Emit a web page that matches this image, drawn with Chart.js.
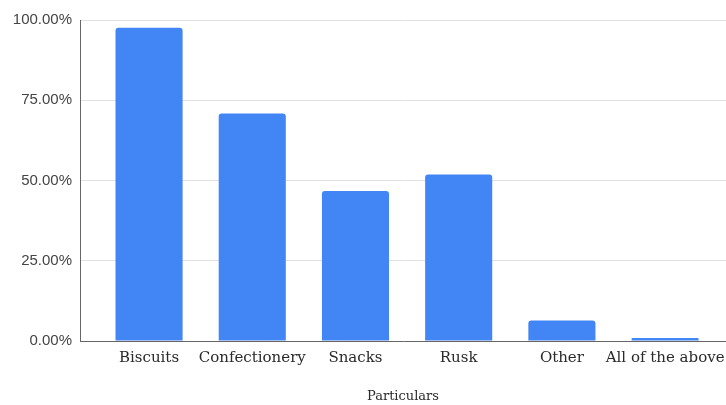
<!DOCTYPE html>
<html>
<head>
<meta charset="utf-8">
<script src="https://cdn.jsdelivr.net/npm/chart.js@4"></script>
<style>
  html, body { margin: 0; padding: 0; background: #fff; overflow: hidden; }
  #wrap { width: 726px; height: 405px; position: relative; }
</style>
</head>
<body>
<div id="wrap"><canvas id="c" width="726" height="405"></canvas></div>
<script>
// Share of respondents per product category
const categories = ['Biscuits', 'Confectionery', 'Snacks', 'Rusk', 'Other', 'All of the above'];
const shares = [97.6, 70.9, 46.7, 51.9, 6.4, 0.9];
const yTicks = [0, 25, 50, 75, 100];
const xTitle = 'Particulars';

const points = categories.map((_, i) => ({ x: i, y: shares[i] }));

new Chart(document.getElementById('c'), {
  type: 'bar',
  data: {
    datasets: [{
      data: points,
      backgroundColor: '#4285F4',
      borderRadius: { topLeft: 3, topRight: 3, bottomLeft: 0, bottomRight: 0 },
      borderSkipped: 'bottom',
      categoryPercentage: 0.65,
      barPercentage: 1.0
    }]
  },
  options: {
    responsive: false,
    animation: false,
    events: [],
    layout: { padding: { top: 20, right: 0, bottom: 0, left: 0 } },
    plugins: { legend: { display: false }, tooltip: { enabled: false } },
    scales: {
      x: {
        type: 'linear',
        offset: false,
        min: -0.669,
        max: 5.59,
        afterBuildTicks: (s) => { s.ticks = categories.map((_, i) => ({ value: i })); },
        afterFit: (s) => { s.height = 64; s.paddingLeft = 0; s.paddingRight = 0; },
        grid: { display: false, drawTicks: false },
        border: { display: true, color: '#666', width: 1 },
        ticks: {
          autoSkip: false,
          maxRotation: 0,
          padding: 8,
          color: '#2a2a2a',
          font: { family: 'DejaVu Serif', size: 15 },
          callback: (v) => categories[v] ?? ''
        },
        title: {
          display: true,
          text: xTitle,
          color: '#2a2a2a',
          font: { family: 'DejaVu Serif', size: 13 },
          padding: { top: 0, bottom: 1 }
        }
      },
      y: {
        min: 0,
        max: 100,
        afterBuildTicks: (s) => { s.ticks = yTicks.map(v => ({ value: v })); },
        afterFit: (s) => { s.width = 80; },
        grid: { color: '#e2e0e0', drawTicks: false },
        border: { display: true, color: '#666', width: 1 },
        ticks: {
          padding: 8,
          color: '#444',
          font: { family: 'Liberation Sans', size: 15 },
          callback: (v) => v.toFixed(2) + '%'
        }
      }
    }
  }
});
</script>
</body>
</html>
